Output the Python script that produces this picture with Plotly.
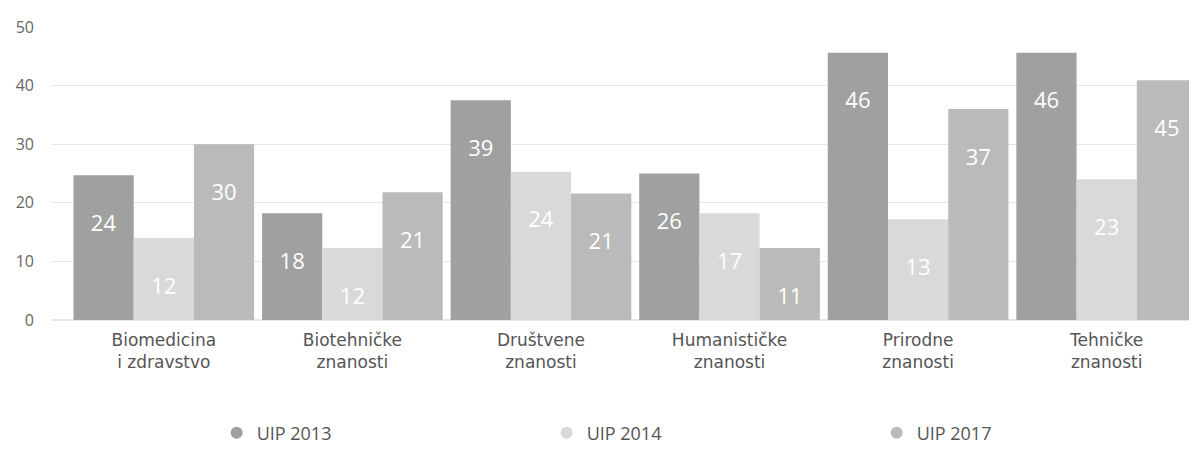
import plotly.graph_objects as go

# Chart data
categories = [
    "Biomedicina<br>i zdravstvo",
    "Biotehničke<br>znanosti",
    "Društvene<br>znanosti",
    "Humanističke<br>znanosti",
    "Prirodne<br>znanosti",
    "Tehničke<br>znanosti",
]
series_names = ["UIP 2013", "UIP 2014", "UIP 2017"]

# bar heights
uip_2013 = [24.7, 18.2, 37.5, 25.0, 45.6, 45.6]
uip_2014 = [14.0, 12.3, 25.3, 18.2, 17.2, 24.0]
uip_2017 = [30.0, 21.8, 21.6, 12.3, 36.0, 40.9]

# numbers printed on the bars
labels_2013 = [24, 18, 39, 26, 46, 46]
labels_2014 = [12, 12, 24, 17, 13, 23]
labels_2017 = [30, 21, 21, 11, 37, 45]

y_ticks = [0, 10, 20, 30, 40, 50]

colors = ["#a0a0a0", "#d9d9d9", "#bababa"]
FONT = "Open Sans, Roboto, sans-serif"

fig = go.Figure()

for name, vals, labs, col in zip(
    series_names,
    [uip_2013, uip_2014, uip_2017],
    [labels_2013, labels_2014, labels_2017],
    colors,
):
    fig.add_trace(go.Bar(
        x=categories, y=vals, name=name,
        marker=dict(color=col, line=dict(width=0)),
        # blank first line pushes the number down from the bar top
        text=[f"\u00a0<br>{v}" for v in labs],
        textposition="inside", insidetextanchor="end",
        textfont=dict(color="white", size=22, family=FONT),
        textangle=0,
        showlegend=False,
    ))
    # legend-only entry with a round marker
    fig.add_trace(go.Scatter(
        x=[None], y=[None], mode="markers", name=name,
        marker=dict(color=col, size=12, symbol="circle"),
    ))

# page body adds an 8px offset, margins are trimmed to compensate
fig.update_layout(
    width=1197, height=466,
    margin=dict(l=42, r=8, t=16, b=154),
    paper_bgcolor="white", plot_bgcolor="white",
    barmode="group", bargap=0.042, bargroupgap=0,
    font=dict(family=FONT, color="#666666", size=16),
    xaxis=dict(
        range=[-0.593, 5.479], showgrid=False, showline=False,
        ticks="", ticklabelstandoff=8,
        tickfont=dict(size=17, color="#555555", family="DejaVu Sans"),
    ),
    yaxis=dict(
        range=[0, 50], tickvals=y_ticks, showgrid=True,
        gridcolor="#e6e6e6", gridwidth=1, zeroline=True,
        zerolinecolor="#e6e6e6", ticks="", ticklabelstandoff=17,
        tickfont=dict(size=16, color="#666666"),
    ),
    legend=dict(
        orientation="h", xref="container", yref="container",
        x=0.1743, xanchor="left", y=0.088, yanchor="middle",
        entrywidth=285, entrywidthmode="pixels",
        font=dict(size=18, color="#555555"),
        itemwidth=30,
    ),
)

fig.write_html("out.html")
